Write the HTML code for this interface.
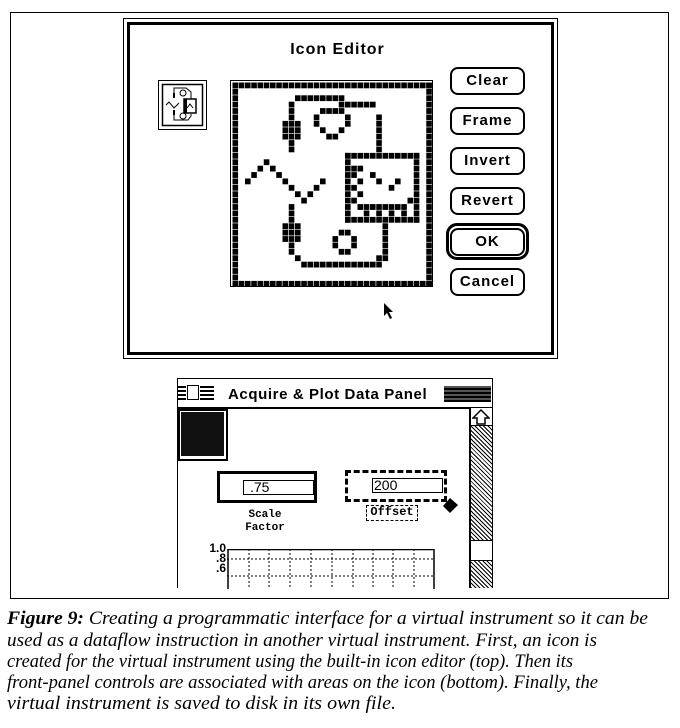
<!DOCTYPE html>
<html><head><meta charset="utf-8">
<style>
html,body{margin:0;padding:0;background:#fff;}
body{width:680px;height:728px;position:relative;overflow:hidden;font-family:"Liberation Sans",sans-serif;}
.a{position:absolute;box-sizing:border-box;}
.btn{position:absolute;box-sizing:border-box;left:450px;width:75px;height:28px;border:2px solid #000;border-radius:8px;font:bold 15px "Liberation Sans",sans-serif;letter-spacing:1px;text-align:center;line-height:24px;}
.cap{position:absolute;left:7px;white-space:nowrap;font:italic 19px "Liberation Serif",serif;transform-origin:0 0;}
</style></head><body>
<div class="a" style="left:10px;top:12px;width:659px;height:587px;border:1.5px solid #000;"></div>
<div class="a" style="left:123px;top:18px;width:435px;height:341px;border:1px solid #000;"></div>
<div class="a" style="left:127px;top:22px;width:427px;height:333px;border:3px solid #000;"></div>
<div class="a" style="left:230px;top:41px;width:215px;text-align:center;font:bold 16px 'Liberation Sans',sans-serif;letter-spacing:1px;">Icon Editor</div>
<svg class="a" style="left:158px;top:80px" width="50" height="51" viewBox="0 0 50 51">
<rect x="0.5" y="0.5" width="48" height="49" fill="none" stroke="#000"/>
<rect x="4.5" y="4.5" width="40" height="41" fill="none" stroke="#000" stroke-width="1.5"/>
<path d="M16 13 L16 8 L28 8 L33 12 L33 22" fill="none" stroke="#000"/>
<circle cx="25" cy="13" r="3" fill="none" stroke="#000"/>
<path d="M8 25 L11 22 L16 28 L21 23" fill="none" stroke="#000"/>
<rect x="15" y="13" width="2" height="5"/><rect x="15" y="30" width="2" height="5"/>
<path d="M16 35 L16 40 L30 40 L33 36 L33 34" fill="none" stroke="#000"/>
<circle cx="25" cy="36" r="3" fill="none" stroke="#000"/>
<rect x="26" y="19" width="12" height="14" fill="#fff" stroke="#000" stroke-width="1.5"/>
<rect x="26" y="19" width="3" height="14"/>
<path d="M29 28 L32 24 L35 28" fill="none" stroke="#000"/>
</svg>
<svg class="a" id="grid" style="left:230px;top:80px" width="203" height="207" viewBox="0 0 203 207">
<rect x="0.5" y="0.5" width="202" height="206" fill="none" stroke="#000"/>
</svg>
<div class="btn" style="top:67px;">Clear</div>
<div class="btn" style="top:107px;">Frame</div>
<div class="btn" style="top:147px;">Invert</div>
<div class="btn" style="top:187px;">Revert</div>
<div class="a" style="left:446px;top:223px;width:83px;height:37px;border:3.5px solid #000;border-radius:11px;"></div>
<div class="btn" style="top:228px;height:28px;">OK</div>
<div class="btn" style="top:268px;">Cancel</div>
<svg class="a" style="left:383px;top:302px" width="12" height="18"><path d="M1 1 L1 14 L4 11 L7 17 L9 16 L6 10 L10 10 Z" fill="#000"/></svg>

<div class="a" style="left:177px;top:378px;width:316px;height:210px;border:1.5px solid #000;border-bottom:none;"></div>
<div class="a" style="left:177px;top:407px;width:316px;height:2px;background:#000;"></div>
<svg class="a" style="left:178px;top:384px" width="50" height="18">
<g fill="#000"><rect x="0" y="2" width="8" height="2"/><rect x="0" y="6" width="8" height="2"/><rect x="0" y="10" width="8" height="2"/><rect x="0" y="14" width="8" height="2"/></g>
<rect x="9.5" y="1.5" width="11" height="14" fill="#fff" stroke="#000"/>
<g fill="#000"><rect x="22" y="2" width="14" height="2"/><rect x="22" y="6" width="14" height="2"/><rect x="22" y="10" width="14" height="2"/><rect x="22" y="14" width="14" height="2"/></g>
</svg>
<div class="a" style="left:228px;top:386px;font:bold 15px 'Liberation Sans',sans-serif;letter-spacing:0.6px;white-space:nowrap;">Acquire &amp; Plot Data Panel</div>
<div class="a" style="left:444px;top:386px;width:47px;height:16px;background:repeating-linear-gradient(0deg,#000 0 2px,#555 2px 4px);"></div>
<div class="a" style="left:469px;top:408px;width:2px;height:180px;background:#000;"></div>
<div class="a" style="left:471px;top:408px;width:21px;height:180px;background:repeating-linear-gradient(45deg,#000 0 1px,#fff 1px 3px),#888;"></div>
<div class="a" style="left:471px;top:408px;width:21px;height:18px;background:#fff;border-bottom:1.5px solid #000;"></div>
<svg class="a" style="left:472px;top:409px" width="18" height="16"><path d="M9 1 L17 9 L13 9 L13 15 L5 15 L5 9 L1 9 Z" fill="#fff" stroke="#000" stroke-width="1.5"/></svg>
<div class="a" style="left:471px;top:540px;width:21px;height:21px;background:#fff;border-top:1.5px solid #000;border-bottom:1.5px solid #000;"></div>
<div class="a" style="left:178px;top:409px;width:50px;height:52px;border:2px solid #000;background:#fff;"></div>
<div class="a" style="left:181px;top:412px;width:43px;height:44px;background:#111;"></div>
<div class="a" style="left:217px;top:471px;width:100px;height:32px;border:3px solid #000;"></div>
<div class="a" style="left:243px;top:480px;width:71px;height:15px;border:1.5px solid #000;font:14px 'Liberation Sans',sans-serif;line-height:12px;padding-left:6px;">.75</div>
<div class="a" style="left:345px;top:470px;width:102px;height:32px;border:3px dashed #000;"></div>
<div class="a" style="left:372px;top:478px;width:71px;height:15px;border:1.5px solid #000;font:14px 'Liberation Sans',sans-serif;line-height:12px;padding-left:1px;">200</div>
<svg class="a" style="left:442px;top:497px" width="18" height="18"><path d="M8 1 L16 8 L8 16 L1 9 Z" fill="#000"/></svg>
<div class="a" style="left:240px;top:509px;width:50px;text-align:center;font:bold 11px 'Liberation Mono',monospace;line-height:13px;">Scale<br>Factor</div>
<div class="a" style="left:366px;top:505px;width:52px;height:16px;border:1.5px dashed #000;text-align:center;font:bold 12px 'Liberation Mono',monospace;line-height:13px;">Offset</div>
<div class="a" style="left:201px;top:543px;font:bold 12px 'Liberation Sans',sans-serif;line-height:10px;text-align:right;width:25px;">1.0<br>.8<br>.6</div>
<svg class="a" style="left:227px;top:549px" width="210" height="40">
<rect x="1" y="0.5" width="206" height="45" fill="none" stroke="#000" stroke-width="1.5"/>
<g stroke="#000" stroke-dasharray="2 2" stroke-width="1">
<line x1="0" y1="10" x2="207" y2="10"/><line x1="0" y1="27" x2="207" y2="27"/>
<line x1="22" y1="0" x2="22" y2="40"/><line x1="42" y1="0" x2="42" y2="40"/><line x1="63" y1="0" x2="63" y2="40"/><line x1="84" y1="0" x2="84" y2="40"/><line x1="105" y1="0" x2="105" y2="40"/><line x1="126" y1="0" x2="126" y2="40"/><line x1="146" y1="0" x2="146" y2="40"/><line x1="166" y1="0" x2="166" y2="40"/><line x1="187" y1="0" x2="187" y2="40"/>
</g></svg>

<div class="cap" data-w="641" style="top:608px;"><b>Figure 9:</b> Creating a programmatic interface for a virtual instrument so it can be</div>
<div class="cap" data-w="590" style="top:630px;">used as a dataflow instruction in another virtual instrument. First, an icon is</div>
<div class="cap" data-w="566" style="top:651px;">created for the virtual instrument using the built-in icon editor (top). Then its</div>
<div class="cap" data-w="591" style="top:672px;">front-panel controls are associated with areas on the icon (bottom). Finally, the</div>
<div class="cap" data-w="389" style="top:693px;">virtual instrument is saved to disk in its own file.</div>

<script>
(function(){
var cells=[];
function s(c,r){cells.push([c,r]);}
for(var i=0;i<32;i++){s(i,0);s(i,31);s(0,i);s(31,i);}
for(var c=10;c<=17;c++)s(c,2);
s(9,3);for(c=17;c<=22;c++)s(c,3);
for(var r=4;r<=10;r++){s(9,r);}
s(23,5);s(23,6);s(23,7);s(23,8);s(23,9);s(23,10);
s(8,6);s(10,6);s(8,7);s(10,7);s(8,8);s(10,8);
[[14,4],[15,4],[16,4],[17,4],[13,5],[18,5],[13,6],[18,6],[14,7],[17,7],[15,8],[16,8]].forEach(function(p){s(p[0],p[1]);});
[[2,15],[3,14],[4,13],[5,12],[6,13],[7,14],[8,15],[9,16],[10,17],[11,18],[12,17],[13,16],[14,15]].forEach(function(p){s(p[0],p[1]);});
for(c=18;c<=29;c++){s(c,11);s(c,21);}
for(r=11;r<=21;r++){s(18,r);s(29,r);}
[[19,13],[20,13],[19,14],[20,15],[22,14],[23,15],[25,16],[26,15],[19,16],[20,17],[19,18],[20,19],[21,19],[22,19],[23,19],[24,19],[25,19],[26,19],[27,19],[21,20],[23,20],[25,20],[27,20],[28,18]].forEach(function(p){s(p[0],p[1]);});
for(r=19;r<=26;r++)s(9,r);
s(8,22);s(10,22);s(8,23);s(10,23);s(8,24);s(10,24);
s(10,27);for(c=11;c<=18;c++)s(c,28);
for(c=19;c<=23;c++)s(c,28);s(23,27);
for(r=22;r<=27;r++)s(24,r);
[[17,23],[18,23],[16,24],[19,24],[16,25],[19,25],[17,26],[18,26]].forEach(function(p){s(p[0],p[1]);});
var g=document.getElementById('grid'),ns='http://www.w3.org/2000/svg',cw=6.25,ch=6.4;
cells.forEach(function(p){var e=document.createElementNS(ns,'rect');e.setAttribute('x',2.5+p[0]*cw);e.setAttribute('y',2.5+p[1]*ch);e.setAttribute('width',5.6);e.setAttribute('height',5.8);g.appendChild(e);});
document.querySelectorAll('.cap').forEach(function(d){var w=d.getBoundingClientRect().width;var t=+d.getAttribute('data-w');d.style.transform='scaleX('+(t/w)+')';});
})();
</script>
</body></html>
